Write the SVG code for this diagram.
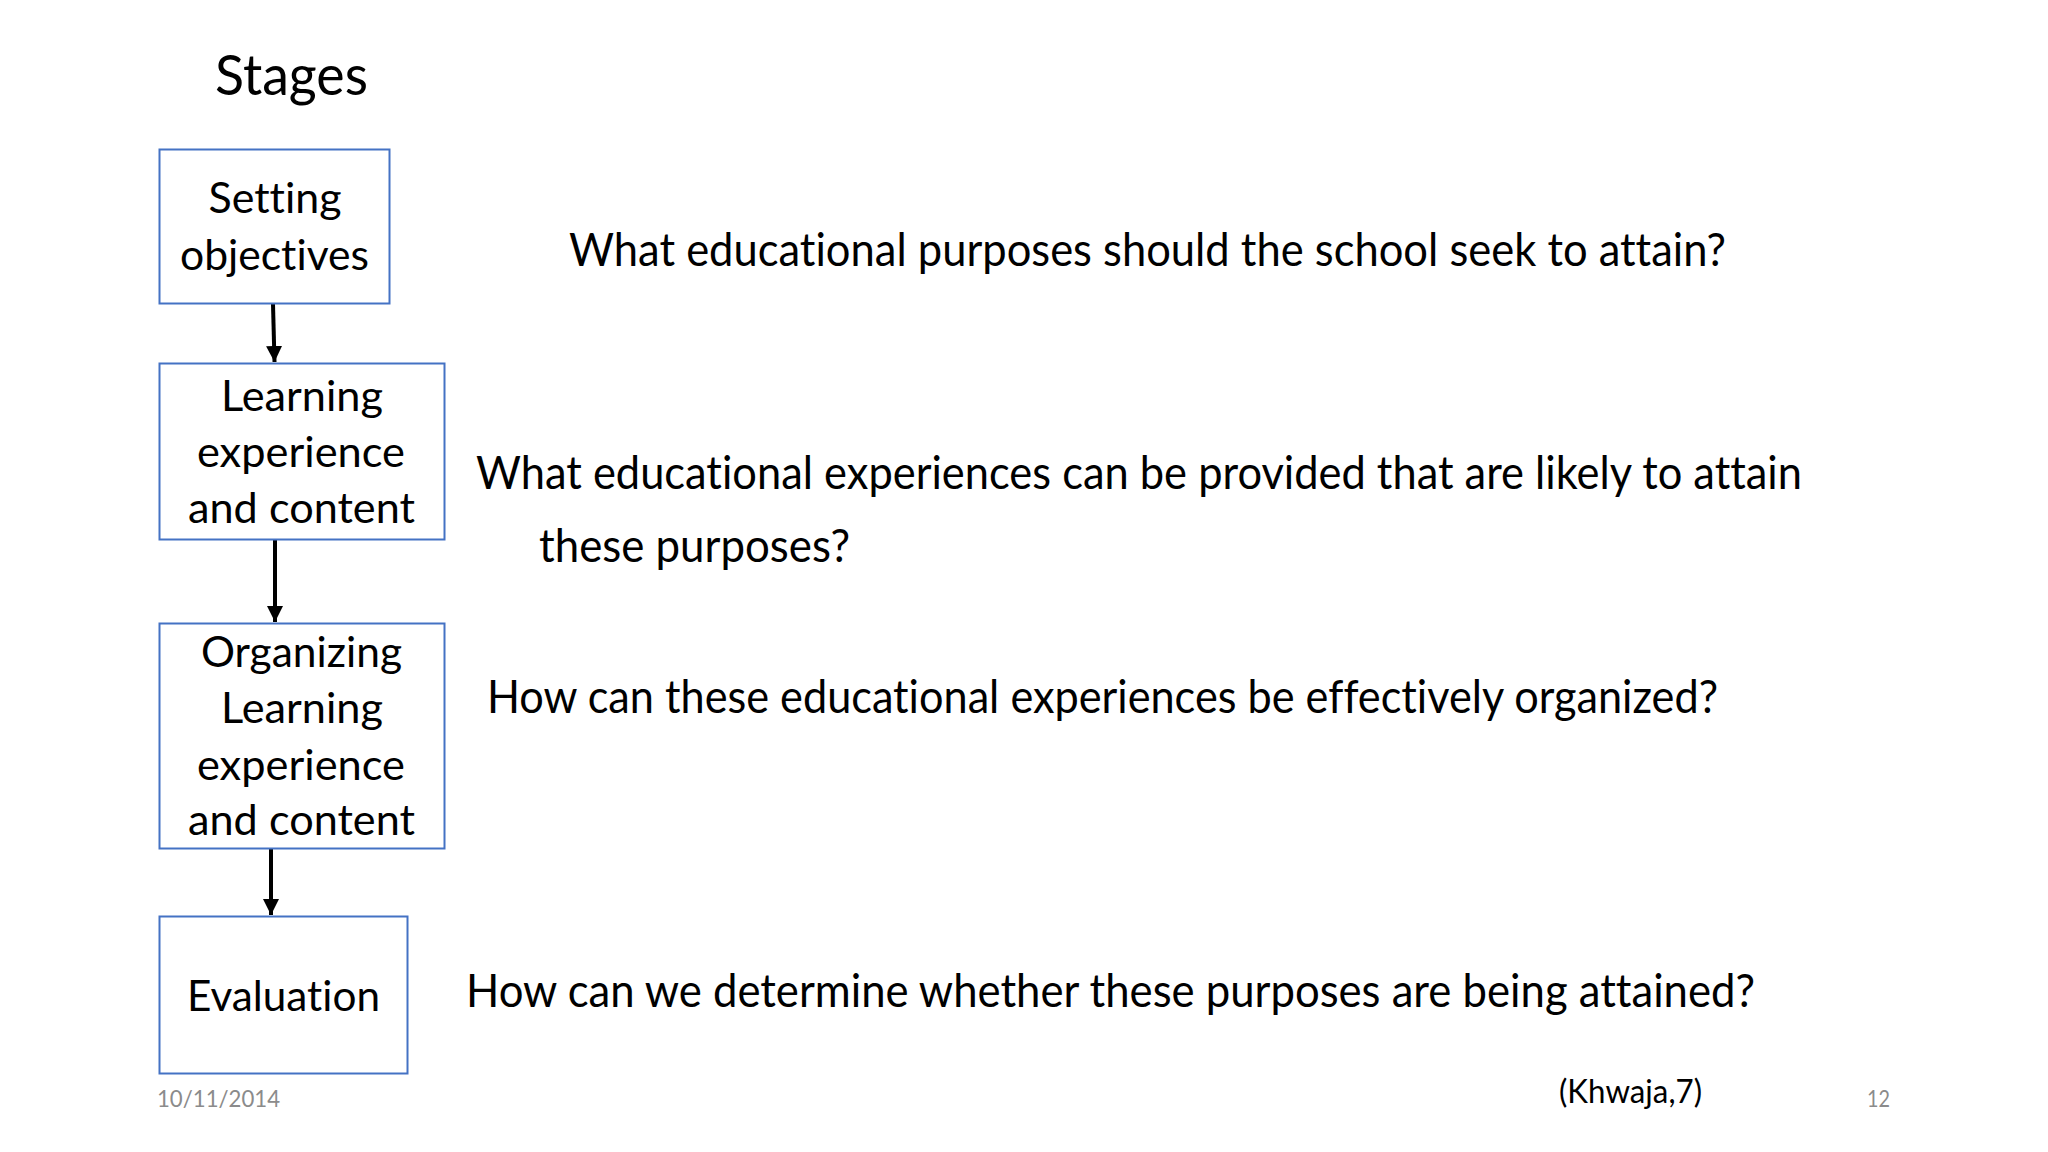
<svg xmlns="http://www.w3.org/2000/svg" width="2048" height="1152" viewBox="0 0 2048 1152">
<defs>
<style>
text{font-variant-ligatures:none;font-feature-settings:"liga" 0,"clig" 0}
.box{fill:#ffffff;stroke:#4472C4;stroke-width:2}
.t{font-family:Lato,"Open Sans","Liberation Sans",sans-serif;fill:#000000}
.bt{font-size:43px;text-anchor:middle}
.q{font-size:46px}
.foot{font-family:Lato,"Open Sans","Liberation Sans",sans-serif;font-size:24px;fill:#8b8b8b}
.conn{stroke:#000000;stroke-width:4;fill:none;marker-end:url(#ah)}
</style>
<marker id="ah" viewBox="0 0 10 10" refX="10" refY="5" markerWidth="4" markerHeight="4" orient="auto" markerUnits="strokeWidth">
<path d="M0,0 L10,5 L0,10 z" fill="#000000"/>
</marker>
</defs>
<rect width="2048" height="1152" fill="#ffffff"/>
<text class="t" x="215" y="95" font-size="56" textLength="153" lengthAdjust="spacingAndGlyphs">Stages</text>
<g id="connectors">
<line class="conn" x1="273" y1="304" x2="274.5" y2="362"/>
<line class="conn" x1="275" y1="540" x2="275" y2="622"/>
<line class="conn" x1="271" y1="849" x2="271" y2="915"/>
</g>
<g id="n1">
<rect class="box" x="159.5" y="149.5" width="230" height="154"/>
<text class="t bt" x="275" y="213" textLength="133" lengthAdjust="spacingAndGlyphs">Setting</text>
<text class="t bt" x="274.5" y="270" textLength="189" lengthAdjust="spacingAndGlyphs">objectives</text>
</g>
<g id="n2">
<rect class="box" x="159.5" y="363.5" width="285" height="176"/>
<text class="t bt" x="302" y="411" textLength="162" lengthAdjust="spacingAndGlyphs">Learning</text>
<text class="t bt" x="301" y="467" textLength="208" lengthAdjust="spacingAndGlyphs">experience</text>
<text class="t bt" x="301.5" y="523" textLength="227" lengthAdjust="spacingAndGlyphs">and content</text>
</g>
<g id="n3">
<rect class="box" x="159.5" y="623.5" width="285" height="225"/>
<text class="t bt" x="301.5" y="667" textLength="201" lengthAdjust="spacingAndGlyphs">Organizing</text>
<text class="t bt" x="302" y="723" textLength="162" lengthAdjust="spacingAndGlyphs">Learning</text>
<text class="t bt" x="301" y="780" textLength="208" lengthAdjust="spacingAndGlyphs">experience</text>
<text class="t bt" x="301.5" y="835" textLength="227" lengthAdjust="spacingAndGlyphs">and content</text>
</g>
<g id="n4">
<rect class="box" x="159.5" y="916.5" width="248" height="157"/>
<text class="t bt" x="283.5" y="1011" textLength="193" lengthAdjust="spacingAndGlyphs">Evaluation</text>
</g>
<g id="questions">
<text class="t q" x="569" y="266" textLength="1157" lengthAdjust="spacingAndGlyphs">What educational purposes should the school seek to attain?</text>
<text class="t q" x="476" y="489" textLength="1326" lengthAdjust="spacingAndGlyphs">What educational experiences can be provided that are likely to attain</text>
<text class="t q" x="539" y="562" textLength="311" lengthAdjust="spacingAndGlyphs">these purposes?</text>
<text class="t q" x="487" y="713" textLength="1231" lengthAdjust="spacingAndGlyphs">How can these educational experiences be effectively organized?</text>
<text class="t q" x="466" y="1007" textLength="1289" lengthAdjust="spacingAndGlyphs">How can we determine whether these purposes are being attained?</text>
</g>
<text class="foot" x="157" y="1107" textLength="123" lengthAdjust="spacingAndGlyphs">10/11/2014</text>
<text class="t" x="1559" y="1103" font-size="33" textLength="143" lengthAdjust="spacingAndGlyphs">(Khwaja,7)</text>
<text class="foot" x="1867" y="1107" textLength="23" lengthAdjust="spacingAndGlyphs">12</text>
</svg>
